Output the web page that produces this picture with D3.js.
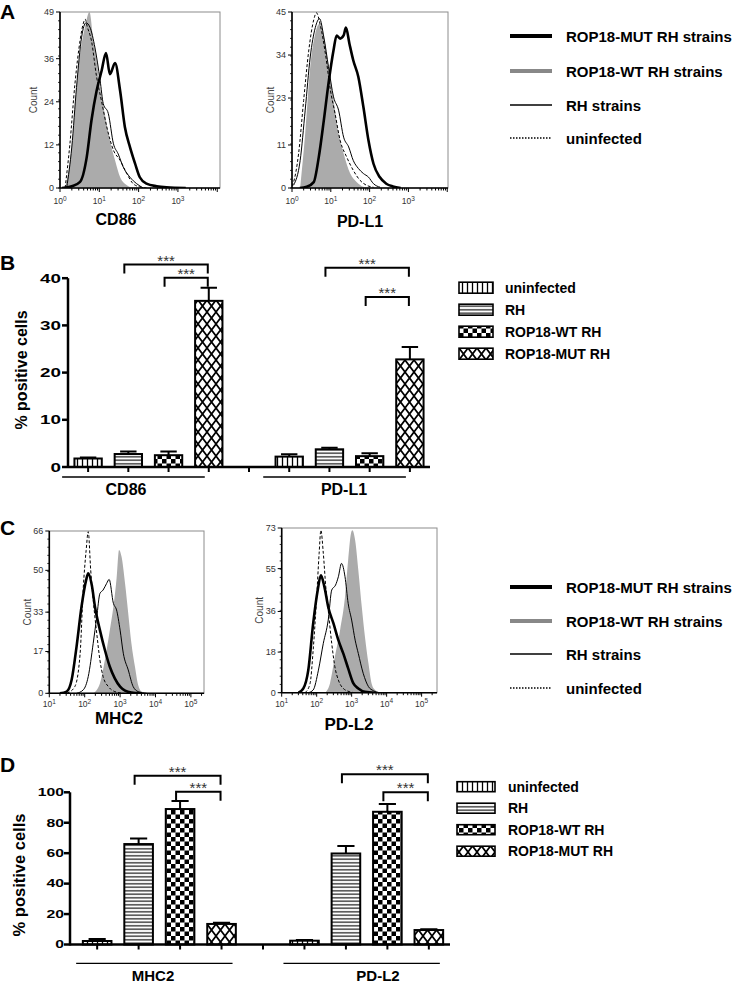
<!DOCTYPE html>
<html><head><meta charset="utf-8">
<script src="https://cdn.jsdelivr.net/npm/d3@7"></script>
<style>body{margin:0;background:#fff}svg{display:block}text{font-family:"Liberation Sans",Arial,Helvetica,sans-serif}</style>
</head><body><script>
// ================= DATA =================
const lineLegendLabels = ["ROP18-MUT RH strains","ROP18-WT RH strains","RH strains","uninfected"];
const barSeries = ["uninfected","RH","ROP18-WT RH","ROP18-MUT RH"];

// histogram points: [log10 fluorescence, count]
const cd86WT    = [[0.13,0],[0.3,11.4],[0.47,33.7],[0.64,45],[0.75,49],[0.85,41],[0.93,35.5],[1.02,28],[1.14,20.7],[1.27,13.3],[1.4,7.7],[1.53,3],[1.7,0.8],[1.86,0]];
const cd86Uninf = [[0.13,0],[0.25,12],[0.38,29],[0.51,41],[0.59,45.7],[0.64,47],[0.69,45],[0.8,41],[0.93,31],[1.06,24],[1.19,17],[1.36,10.5],[1.53,7.7],[1.7,4],[1.86,1.2],[2.03,0.3],[2.2,0]];
const cd86RH    = [[0.17,0],[0.3,11.4],[0.42,28],[0.55,42],[0.66,46],[0.76,44.8],[0.89,39],[1.02,30],[1.1,23.5],[1.23,20.7],[1.36,12.3],[1.48,9.5],[1.61,5.8],[1.78,3],[1.95,1.2],[2.12,0]];
const cd86MUT   = [[0.05,0],[0.3,0.5],[0.51,1.7],[0.68,8.6],[0.8,18.8],[0.93,27],[1.06,32.7],[1.17,37.6],[1.27,31.7],[1.4,34.8],[1.53,27],[1.65,17],[1.78,11.4],[1.91,6.8],[2.03,3],[2.2,1.2],[2.46,0.5],[2.71,0.2],[3.2,0]];

const pdl1WT    = [[0.21,0],[0.34,14],[0.47,31],[0.6,39.5],[0.71,42],[0.82,38.6],[0.94,31],[1.07,22.5],[1.2,14],[1.33,8.8],[1.5,3.7],[1.67,1.5],[1.84,0.3],[2,0]];
const pdl1Uninf = [[0,0.5],[0.04,1.5],[0.17,8.8],[0.3,22.4],[0.43,35],[0.56,43],[0.63,44.8],[0.73,41.6],[0.86,34.4],[0.99,25],[1.11,19],[1.24,12.2],[1.41,7.9],[1.58,4.5],[1.75,2],[1.92,0.7],[2.1,0.2]];
const pdl1RH    = [[0.04,0.7],[0.21,7],[0.34,19.9],[0.47,33.5],[0.6,41],[0.71,43.3],[0.82,38.6],[0.94,31],[1.07,23.3],[1.2,19.9],[1.33,13],[1.46,10.5],[1.58,7],[1.71,5],[1.84,3.7],[1.97,2.8],[2.1,1.1],[2.27,0.2]];
const pdl1MUT   = [[0.2,0],[0.38,0.3],[0.56,1.5],[0.69,7.9],[0.82,17.3],[0.94,26.7],[1.07,35.2],[1.15,39],[1.24,38.2],[1.33,39],[1.39,41],[1.48,36.9],[1.58,32.6],[1.71,28.4],[1.84,20.7],[1.97,12.2],[2.1,6.2],[2.26,2.8],[2.43,1.1],[2.6,0.4],[2.8,0]];

const mhc2WT    = [[2.24,0],[2.43,4],[2.57,13.5],[2.71,25.7],[2.81,35.2],[2.9,46.7],[2.97,58.3],[3.04,55.6],[3.14,44.7],[3.23,32.5],[3.32,20.3],[3.42,10.8],[3.51,3.4],[3.61,0.7],[3.75,0]];
const mhc2Uninf = [[1.5,0],[1.72,2.7],[1.87,16],[1.96,43],[2.04,58],[2.1,65.7],[2.17,50],[2.24,38],[2.34,24.4],[2.43,13.5],[2.52,6.8],[2.67,2.7],[2.85,0.7],[3.09,0]];
const mhc2RH    = [[1.77,0],[1.96,1.4],[2.1,6.8],[2.24,20.3],[2.34,31],[2.43,40.6],[2.52,42],[2.62,44.7],[2.69,46.3],[2.81,36.6],[2.9,33.9],[3,25.7],[3.09,16.3],[3.23,9.5],[3.37,2.7],[3.51,0.7],[3.75,0]];
const mhc2MUT   = [[1.3,0],[1.49,0.7],[1.63,5.4],[1.77,19],[1.91,35.2],[2.04,46],[2.1,48.8],[2.2,44],[2.29,35.2],[2.43,25.7],[2.57,17.6],[2.71,10.8],[2.85,6.1],[3,2.7],[3.14,1.1],[3.32,0.3],[3.6,0]];

const pdl2WT    = [[2.24,0],[2.38,4.1],[2.52,16],[2.67,27.8],[2.81,42.5],[2.9,58.8],[2.98,70.6],[3.02,72],[3.1,67.6],[3.19,54.4],[3.29,38],[3.38,24.8],[3.48,13],[3.57,4.1],[3.67,1.2],[3.81,0]];
const pdl2Uninf = [[1.67,0],[1.81,4],[1.9,19],[2,42.5],[2.07,61.7],[2.12,72],[2.19,61.7],[2.26,47],[2.33,36.6],[2.43,21.9],[2.52,11.5],[2.62,5.6],[2.76,1.9],[2.95,0.4],[3.1,0]];
const pdl2RH    = [[1.76,0],[1.9,1.2],[2.05,10],[2.19,21.9],[2.33,32.2],[2.43,45.5],[2.54,47.7],[2.62,51.4],[2.71,57.3],[2.81,51.4],[2.9,39.6],[3,32.2],[3.1,23.3],[3.19,17.4],[3.33,8.6],[3.48,2.7],[3.62,0.9],[3.81,0]];
const pdl2MUT   = [[1.48,0],[1.62,1.9],[1.76,10],[1.9,30.7],[2.03,45.5],[2.12,52],[2.22,47],[2.33,38],[2.48,30.7],[2.62,23.3],[2.76,17.4],[2.9,10.8],[3.05,4.1],[3.19,1.9],[3.38,0.4],[3.67,0]];

const cd86YTicks = [0,12,24,36,49];
const pdl1YTicks = [0,11,23,34,45];
const mhc2YTicks = [0,17,33,50,66];
const pdl2YTicks = [0,18,36,55,73];
const histXExpA = [0,1,2,3];
const histXExpC = [1,2,3,4,5];

const bCategories = ["CD86","PD-L1"];
const bMeans = [[1.8,2.75,2.5,35.2],[2.2,3.75,2.3,22.8]];
const bSEM   = [[0.2,0.55,0.8,2.8],[0.5,0.35,0.6,2.6]];
const bYTicks = [0,10,20,30,40];
const bBrackets = [{g:0,from:1,to:3,v:42.9},{g:0,from:2,to:3,v:40.1},{g:1,from:1,to:3,v:42.2},{g:1,from:2,to:3,v:36.0}];

const dCategories = ["MHC2","PD-L2"];
const dMeans = [[2.3,66,89,13.5],[2.5,59.8,87.2,9.5]];
const dSEM   = [[1.3,3.7,5.3,0.8],[0.5,4.9,5.1,0.5]];
const dYTicks = [0,20,40,60,80,100];
const dBrackets = [{g:0,from:1,to:3,v:110.9},{g:0,from:2,to:3,v:100.4},{g:1,from:1,to:3,v:111.8},{g:1,from:2,to:3,v:100}];
const sigLabel = "***";

// ================= DRAWING =================
const svg = d3.select("body").append("svg").attr("width",745).attr("height",983);
const defs = svg.append("defs");
function pat(id,w,h,draw){
  const p = defs.append("pattern").attr("id",id).attr("patternUnits","userSpaceOnUse").attr("width",w).attr("height",h);
  p.append("rect").attr("width",w).attr("height",h).attr("fill","#fff");
  draw(p);
}
pat("pV",5,5,p=>p.append("line").attr("x1",2.5).attr("x2",2.5).attr("y1",0).attr("y2",5).attr("stroke","#000").attr("stroke-width",1.3));
pat("pH",4,3.5,p=>p.append("line").attr("x1",0).attr("x2",4).attr("y1",1.75).attr("y2",1.75).attr("stroke","#000").attr("stroke-width",1.1));
pat("pC",9,9,p=>{p.append("rect").attr("width",4.5).attr("height",4.5);p.append("rect").attr("x",4.5).attr("y",4.5).attr("width",4.5).attr("height",4.5);});
pat("pX",9,12,p=>p.append("path").attr("d","M-1,-1.33L10,13.33M10,-1.33L-1,13.33").attr("stroke","#000").attr("stroke-width",1.7));
const patterns = ["url(#pV)","url(#pH)","url(#pC)","url(#pX)"];

// panel letters
[["A",0,19],["B",0,270],["C",0,535],["D",0,772]].forEach(([t,x,y])=>
  svg.append("text").attr("x",x).attr("y",y).attr("font-size",21).attr("font-weight","bold").text(t));

function drawHist(L, wt, un, rh, mut, yTicks, xExps, label){
  const x = d3.scaleLog().domain([Math.pow(10,L.lo),Math.pow(10,L.hi)]).range([L.x0,L.x1]);
  const y = d3.scaleLinear().domain([0,L.ymax]).range([L.yb,L.yt]);
  const g = svg.append("g");
  const cid = "clip"+L.id;
  defs.append("clipPath").attr("id",cid).append("rect").attr("x",L.x0).attr("y",L.yt-3).attr("width",L.x1-L.x0).attr("height",L.yb-L.yt+3);
  g.append("rect").attr("x",L.x0).attr("y",L.yt).attr("width",L.x1-L.x0).attr("height",L.yb-L.yt)
    .attr("fill","none").attr("stroke","#8c8c8c").attr("stroke-width",1);
  const px = d=>x(Math.pow(10,d[0])), py = d=>y(d[1]);
  const cg = g.append("g").attr("clip-path",`url(#${cid})`);
  cg.append("path").datum(wt).attr("d",d3.area().x(px).y0(y(0)).y1(py).curve(d3.curveMonotoneX)).attr("fill","#ababab");
  const line = d3.line().x(px).y(py).curve(d3.curveMonotoneX);
  cg.append("path").datum(un).attr("d",line).attr("fill","none").attr("stroke","#000").attr("stroke-width",1).attr("stroke-dasharray","3,2");
  cg.append("path").datum(rh).attr("d",line).attr("fill","none").attr("stroke","#000").attr("stroke-width",1);
  cg.append("path").datum(mut).attr("d",line).attr("fill","none").attr("stroke","#000").attr("stroke-width",2.6);
  // axes lines
  g.append("line").attr("x1",L.x0).attr("x2",L.x1).attr("y1",L.yb).attr("y2",L.yb).attr("stroke","#000").attr("stroke-width",1.6);
  g.append("line").attr("x1",L.x0).attr("x2",L.x0).attr("y1",L.yt).attr("y2",L.yb).attr("stroke","#000").attr("stroke-width",1.6);
  // x ticks
  const minors = [];
  for(let k=Math.floor(L.lo);k<=Math.ceil(L.hi);k++) for(let m=1;m<10;m++){
    const v=m*Math.pow(10,k); if(v>=Math.pow(10,L.lo) && v<=Math.pow(10,L.hi)) minors.push({v,major:m===1});
  }
  g.selectAll(".xt").data(minors).join("line").attr("x1",d=>x(d.v)).attr("x2",d=>x(d.v))
    .attr("y1",L.yb).attr("y2",d=>L.yb+(d.major?4:2.5)).attr("stroke","#000").attr("stroke-width",1);
  xExps.forEach(e=>{
    const t = g.append("text").attr("x",x(Math.pow(10,e))).attr("y",L.yb+L.tly).attr("text-anchor","middle")
      .attr("font-size",8.5).attr("fill","#333");
    t.append("tspan").text("10");
    t.append("tspan").attr("dy",-3.5).attr("font-size",6.5).text(e);
  });
  // y ticks
  const yMinor = d3.range(0,L.ymax,L.ymax/20);
  g.selectAll(".ym").data(yMinor).join("line").attr("x1",L.x0-2).attr("x2",L.x0).attr("y1",d=>y(d)).attr("y2",d=>y(d)).attr("stroke","#000").attr("stroke-width",0.8);
  yTicks.forEach(v=>{
    g.append("line").attr("x1",L.x0-4).attr("x2",L.x0).attr("y1",y(v)).attr("y2",y(v)).attr("stroke","#000").attr("stroke-width",1);
    g.append("text").attr("x",L.x0-6).attr("y",y(v)+3).attr("text-anchor","end").attr("font-size",9).attr("fill","#333").text(v);
  });
  g.append("text").attr("transform",`translate(${L.countX},${(L.yt+L.yb)/2}) rotate(-90)`).attr("text-anchor","middle")
    .attr("font-size",10).attr("fill","#444").text("Count");
  g.append("text").attr("x",L.labelX).attr("y",L.labelY).attr("text-anchor","middle").attr("font-size",L.labelSize)
    .attr("font-weight","bold").text(label);
}

drawHist({id:"a1",x0:60,x1:220,yt:12,yb:188,lo:0,hi:4.07,ymax:49,tly:16,countX:37,labelX:116,labelY:225,labelSize:16},
  cd86WT,cd86Uninf,cd86RH,cd86MUT,cd86YTicks,histXExpA,"CD86");
drawHist({id:"a2",x0:292,x1:448,yt:12,yb:188,lo:0,hi:4.02,ymax:45,tly:16,countX:274,labelX:360,labelY:227,labelSize:16},
  pdl1WT,pdl1Uninf,pdl1RH,pdl1MUT,pdl1YTicks,histXExpA,"PD-L1");
drawHist({id:"c1",x0:49.3,x1:204,yt:531,yb:693.3,lo:1,hi:5.37,ymax:66,tly:14,countX:30.5,labelX:119,labelY:724,labelSize:17},
  mhc2WT,mhc2Uninf,mhc2RH,mhc2MUT,mhc2YTicks,histXExpC,"MHC2");
drawHist({id:"c2",x0:281.7,x1:437,yt:528,yb:692.7,lo:1,hi:5.44,ymax:73,tly:14,countX:262.5,labelX:349,labelY:730,labelSize:17},
  pdl2WT,pdl2Uninf,pdl2RH,pdl2MUT,pdl2YTicks,histXExpC,"PD-L2");

// line legends
const lineStyles = [
  {stroke:"#000",w:4,dash:null},{stroke:"#888",w:4,dash:null},{stroke:"#000",w:1.5,dash:null},{stroke:"#000",w:1.5,dash:"1.5,1.5"}];
function lineLegend(rows){
  lineLegendLabels.forEach((t,i)=>{
    const s=lineStyles[i];
    svg.append("line").attr("x1",510).attr("x2",552).attr("y1",rows[i]).attr("y2",rows[i]).attr("stroke",s.stroke)
      .attr("stroke-width",s.w).attr("stroke-dasharray",s.dash);
    svg.append("text").attr("x",566).attr("y",rows[i]+5.5).attr("font-size",15).attr("font-weight","bold").text(t);
  });
}
lineLegend([36,71,105,138]);
lineLegend([587,621,654,688]);

function barChart(C, cats, means, sems, yTicks, brackets){
  const x = d3.scaleBand().domain(d3.range(9)).range([C.bx0,C.bx1]).paddingInner(C.pi).paddingOuter(C.po);
  const y = d3.scaleLinear().domain([0,C.ymax]).range([C.y0,C.yTop]);
  const bw = x.bandwidth();
  const g = svg.append("g");
  const bars = [];
  cats.forEach((c,gi)=>means[gi].forEach((m,si)=>bars.push({slot:gi*5+si,m,e:sems[gi][si],si})));
  g.selectAll(".bar").data(bars).join("rect").attr("x",d=>x(d.slot)).attr("width",bw)
    .attr("y",d=>y(d.m)).attr("height",d=>y(0)-y(d.m)).attr("fill",d=>patterns[d.si])
    .attr("stroke","#000").attr("stroke-width",2);
  g.selectAll(".eb").data(bars).join("path")
    .attr("d",d=>{const cx=x(d.slot)+bw/2, t=y(d.m+d.e), cw=bw*0.3;return `M${cx},${y(d.m)}V${t}M${cx-cw},${t}H${cx+cw}`;})
    .attr("stroke","#000").attr("stroke-width",2).attr("fill","none");
  // axes
  g.append("line").attr("x1",C.axisX).attr("x2",C.axisEnd).attr("y1",y(0)).attr("y2",y(0)).attr("stroke","#000").attr("stroke-width",2.5);
  g.append("line").attr("x1",C.axisX).attr("x2",C.axisX).attr("y1",y(0)+1).attr("y2",y(C.ymax)).attr("stroke","#000").attr("stroke-width",2.5);
  g.selectAll(".xt").data(d3.range(9)).join("line").attr("x1",d=>x(d)+bw/2).attr("x2",d=>x(d)+bw/2)
    .attr("y1",y(0)).attr("y2",y(0)+5).attr("stroke","#000").attr("stroke-width",2);
  yTicks.forEach(v=>{
    g.append("line").attr("x1",C.axisX-6).attr("x2",C.axisX).attr("y1",y(v)).attr("y2",y(v)).attr("stroke","#000").attr("stroke-width",2.5);
    g.append("text").attr("transform",`translate(${C.tickRight},${y(v)+C.tickFont*0.36}) scale(${C.tickScale},1)`)
      .attr("text-anchor","end").attr("font-size",C.tickFont).attr("font-weight","bold").text(v);
  });
  g.append("text").attr("transform",`translate(${C.titleX},${C.titleY}) rotate(-90)`).attr("text-anchor","middle")
    .attr("font-size",C.titleSize).attr("font-weight","bold").text("% positive cells");
  // group underline and labels
  cats.forEach((c,gi)=>{
    const a = x(gi*5)+bw/2+C.lineOff[0], b = x(gi*5+3)+bw/2+C.lineOff[1];
    g.append("line").attr("x1",a).attr("x2",b).attr("y1",C.lineY).attr("y2",C.lineY).attr("stroke","#000").attr("stroke-width",1.3);
    g.append("text").attr("x",C.labelX[gi]).attr("y",C.labelY).attr("text-anchor","middle").attr("font-size",C.labelSize)
      .attr("font-weight","bold").text(c);
  });
  // brackets
  brackets.forEach(b=>{
    const xl = x(b.g*5+b.from)+bw/2-4, xr = x(b.g*5+b.to)+bw/2-1, yy = y(b.v);
    g.append("path").attr("d",`M${xl},${yy+9}V${yy}H${xr}V${yy+9}`).attr("stroke","#000").attr("stroke-width",2).attr("fill","none");
    g.append("text").attr("x",(xl+xr)/2).attr("y",yy+1).attr("text-anchor","middle").attr("font-size",15).attr("fill","#333").text(sigLabel);
  });
  // legend
  barSeries.forEach((s,i)=>{
    const ry = C.legY + i*C.legStep;
    g.append("rect").attr("x",C.legX).attr("y",ry-C.legH/2).attr("width",C.legW).attr("height",C.legH)
      .attr("fill",patterns[i]).attr("stroke","#000").attr("stroke-width",1.6);
    g.append("text").attr("x",C.legTextX).attr("y",ry+5).attr("font-size",14).attr("font-weight","bold").text(s);
  });
}

barChart({bx0:68,bx1:430,pi:0.32,po:0.16,axisX:68,axisEnd:430,y0:467,yTop:278.2,ymax:40,tickRight:61,tickFont:13,tickScale:1.45,
  titleX:26.5,titleY:370,titleSize:16,lineY:477,lineOff:[-26,-4],labelX:[126,344],labelY:495,labelSize:16,
  legX:459,legY:287.7,legStep:22,legW:34,legH:11,legTextX:505},
  bCategories,bMeans,bSEM,bYTicks,bBrackets);
barChart({bx0:70,bx1:456,pi:0.31,po:0.31,axisX:70,axisEnd:450,y0:944.5,yTop:792.3,ymax:100,tickRight:64,tickFont:10.5,tickScale:1.5,
  titleX:25,titleY:875,titleSize:16.5,lineY:963.3,lineOff:[-21,11],labelX:[153,378],labelY:981,labelSize:15,
  legX:457,legY:786.7,legStep:21.5,legW:38,legH:10,legTextX:508},
  dCategories,dMeans,dSEM,dYTicks,dBrackets);
</script></body></html>
